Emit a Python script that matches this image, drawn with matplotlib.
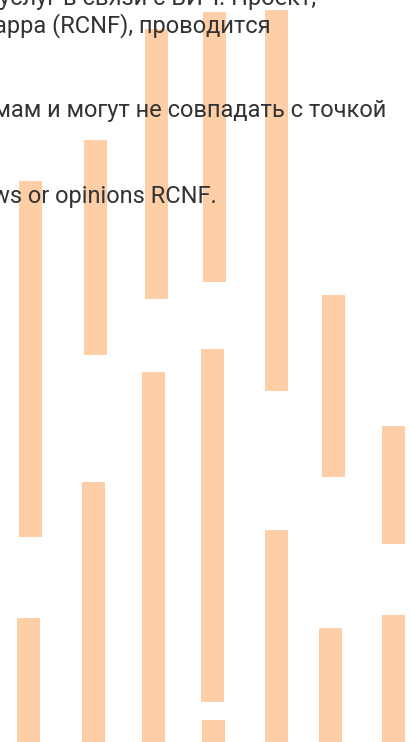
import matplotlib

matplotlib.use("Agg")
import matplotlib.pyplot as plt

# upper row: floating bars (bottom, top) on a 0..742 scale
upper_x = [30.5, 95.5, 156.5, 214.5, 276.5, 333.5, 393.5]
upper_low = [205, 387, 443, 460, 351, 265, 198]
upper_high = [561, 602, 713, 730, 732, 447, 316]

# lower row: bars starting from the baseline, one of them floating
lower_x = [28.5, 93.5, 153.5, 212.5, 276.5, 330.5, 393.5]
lower_low = [0, 0, 0, 40, 0, 0, 0]
lower_high = [124, 260, 370, 393, 212, 114, 127]

# small stub under the fourth lower bar
stub_x = [213.5]
stub_high = [22]

text_lines = [
    "услуг в связи с ВИЧ. Проект,",
    "Фонда Ронарра (RCNF), проводится",
    "по программам и могут не совпадать с точкой",
    "the views or opinions RCNF.",
]
text_right = [316, 271, 386, 217]
text_baseline = [737, 710, 625, 539]

BAR_COLOR = "#fecfa6"
TEXT_COLOR = "#333333"


def main() -> None:
    fig = plt.figure(figsize=(4.14, 7.42), dpi=100)
    ax = fig.add_axes([0, 0, 1, 1])
    ax.set_xlim(0, 414)
    ax.set_ylim(0, 742)
    ax.axis("off")

    width = 23
    ax.bar(upper_x, [h - l for h, l in zip(upper_high, upper_low)],
           bottom=upper_low, width=width, color=BAR_COLOR, linewidth=0, zorder=1)
    ax.bar(lower_x, [h - l for h, l in zip(lower_high, lower_low)],
           bottom=lower_low, width=width, color=BAR_COLOR, linewidth=0, zorder=1)
    ax.bar(stub_x, stub_high, width=width, color=BAR_COLOR, linewidth=0, zorder=1)

    for line, right, base in zip(text_lines, text_right, text_baseline):
        ax.text(right, base, line, ha="right", va="baseline", fontsize=17,
                family="Roboto", color=TEXT_COLOR, zorder=3)

    fig.savefig("out.png", dpi=100)
    plt.close(fig)


if __name__ == "__main__":
    main()
